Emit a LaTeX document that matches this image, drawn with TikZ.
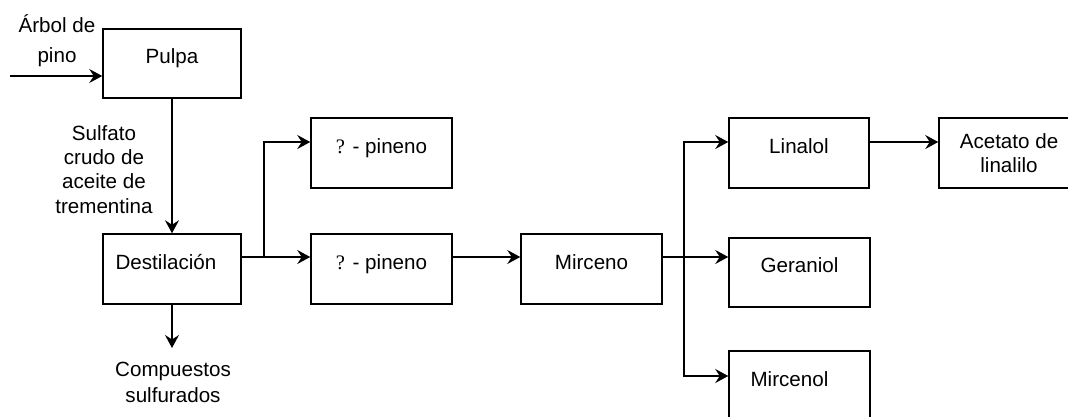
\documentclass[tikz,border=0pt]{standalone}
\usepackage{fontspec}
\setmainfont{Liberation Sans}
\newfontfamily\serifq{Liberation Serif}
\usetikzlibrary{arrows.meta,calc}
\tikzset{
  box/.style={draw, line width=1.5pt, minimum width=140pt, minimum height=70pt, inner sep=0pt,
    font=\fontsize{20.6}{24}\selectfont, text height=10pt, text depth=10pt},
  lbl/.style={inner sep=0pt, font=\fontsize{20.6}{24}\selectfont, anchor=base},
  conn/.style={line width=1.5pt},
  arr/.style={conn, -{Stealth[length=13pt,width=14pt,inset=4.5pt]}}
}
\begin{document}
\begin{tikzpicture}[x=1pt,y=-1pt]
\useasboundingbox (0,0) rectangle (1068,416);
% boxes
\node[box, minimum width=138pt, minimum height=69pt] (pulpa) at (172,63.5) {Pulpa};
\node[box, minimum width=138pt] (destil) at (172,269) {Destilación\hspace*{12pt}};
\node[box, minimum width=141pt] (pin1) at (381.5,153) {{\serifq ?} - pineno};
\node[box, minimum width=141pt] (pin2) at (381.5,269) {{\serifq ?} - pineno};
\node[box, minimum width=141pt] (mirc) at (591.5,269) {Mirceno};
\node[box] (linal) at (799,153) {Linalol};
\node[box, minimum width=141pt, minimum height=69pt] (geran) at (799.5,272.5) {Geraniol};
\node[box, minimum width=141pt] (mircl) at (799.5,386) {\hspace*{-20pt}Mircenol};
\node[box, text height=15pt, text depth=25pt] (acet) at (1009,153) {\begin{tabular}[t]{@{}c@{}}Acetato de\\linalilo\end{tabular}};
% labels
\node[lbl] (arbol) at (57,32.7) {\begin{tabular}[t]{@{}c@{}}Árbol de\\[6pt]pino\end{tabular}};
\node[lbl] (sulf) at (104,140) {\begin{tabular}[t]{@{}c@{}}Sulfato\\crudo de\\aceite de\\[1pt]trementina\end{tabular}};
\node[lbl] (comp) at (173,376.7) {\begin{tabular}[t]{@{}c@{}}Compuestos\\[2pt]sulfurados\end{tabular}};
% helper coordinates
\coordinate (src) at (10,76);
\coordinate (j1) at (264,257);
\coordinate (j1t) at (264,142);
\coordinate (j2) at (684,257);
\coordinate (j2t) at (684,142);
\coordinate (j2b) at (684,376);
\coordinate (cs) at (172,348);
% connectors
\draw[arr] (src) -- (src -| pulpa.west);
\draw[arr] (pulpa.south) -- (destil.north);
\draw[arr] (destil.south) -- (cs);
\draw[arr] (destil.east |- j1) -- (pin2.west |- j1);
\draw[arr] (j1) -- (j1t) -- (pin1.west |- j1t);
\draw[arr] (pin2.east |- j1) -- (mirc.west |- j1);
\draw[arr] (mirc.east |- j2) -- (geran.west |- j2);
\draw[arr] (j2) -- (j2t) -- (linal.west |- j2t);
\draw[arr] (j2) -- (j2b) -- (mircl.west |- j2b);
\draw[arr] (linal.east |- j2t) -- (acet.west |- j2t);
\end{tikzpicture}
\end{document}
